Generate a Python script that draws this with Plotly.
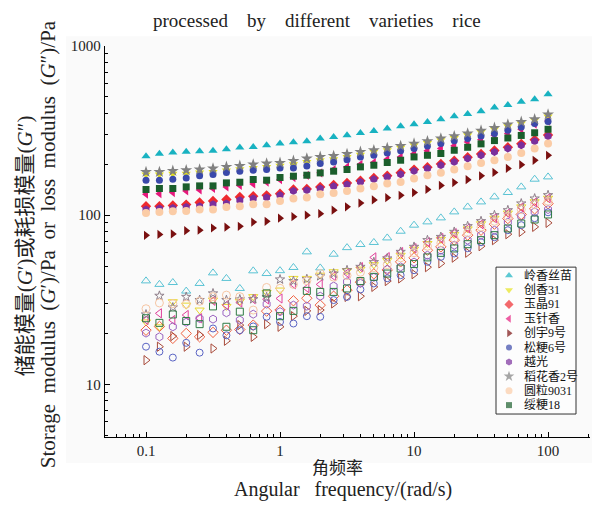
import plotly.graph_objects as go

# ---------------- data ----------------
freq = [0.1, 0.1259, 0.1585, 0.1995, 0.2512, 0.3162, 0.3981, 0.5012, 0.631, 0.7943,
        1.0, 1.259, 1.585, 1.995, 2.512, 3.162, 3.981, 5.012, 6.31, 7.943,
        10.0, 12.59, 15.85, 19.95, 25.12, 31.62, 39.81, 50.12, 63.1, 79.43, 100.0]

names = ["岭香丝苗", "创香31", "玉晶91", "玉针香", "创宇9号", "松粳6号", "越光", "稻花香2号", "圆粒9031", "绥粳18"]

# storage modulus G' (filled symbols)
g1_lingxiang = [223, 231, 235, 237, 239, 240, 245, 251, 253, 259, 265, 270, 274, 284, 290, 297, 306, 315, 325, 335, 345, 356, 369, 384, 396, 411, 433, 448, 469, 484, 518]
g1_chuangxiang31 = [174, 174, 176, 176, 179, 180, 184, 187, 190, 193, 196, 200, 206, 211, 214, 221, 228, 237, 242, 250, 259, 267, 277, 286, 297, 310, 322, 336, 348, 364, 383]
g1_yujing91 = [113, 113, 114, 115.5, 119, 121.5, 124, 128, 129.5, 131, 134, 142, 143, 147, 151, 155, 160, 166, 171, 178, 186, 192, 201, 210, 220, 230, 241, 252, 264, 279, 298]
g1_yuzhenxiang = [133, 134, 136, 139, 141, 144, 147, 150, 153, 157, 162, 167, 172, 178, 186, 193, 200, 205, 214, 221, 231, 240, 248, 257, 271, 280, 297, 304, 322, 345, 360]
g1_chuangyu9 = [76, 77, 77.5, 81, 81.5, 84, 85, 86, 91, 92, 96, 98, 100, 102, 107, 112, 118, 123, 127, 131, 136, 142, 150, 156, 162, 171, 179, 189, 199, 211, 226]
g1_songjing6 = [161, 161, 163, 166, 171, 174, 179, 182, 184.5, 186, 190, 190, 195, 202, 206, 213, 221, 226, 233, 240, 248, 256, 265, 275, 284, 294, 304, 318, 332, 348, 358]
g1_yueguang = [108, 109.5, 110.4, 111.9, 113, 116.1, 117.3, 122.6, 125.5, 127.2, 131.3, 139.2, 140.5, 143.8, 148.4, 151.8, 157.3, 163.2, 168.4, 174.7, 182.7, 188.7, 197.4, 206.5, 216.2, 226, 236.6, 247.7, 259, 273.5, 293]
g1_daohuaxiang2 = [180, 180, 182.7, 184.5, 186.2, 188.7, 193, 195.6, 199.4, 202, 203.7, 209.3, 216.3, 221, 224, 230, 236.6, 242, 249.7, 256.6, 265, 273.5, 284, 293, 304, 316, 328, 343.5, 356, 369, 393.5]
g1_yuanli9031 = [103.2, 104.6, 105.6, 106, 108, 108, 111.9, 113, 116.1, 116.1, 121.5, 125.5, 127.2, 133, 135.4, 139.2, 143.8, 148.4, 153.9, 157.3, 164.8, 172, 178, 186, 194.8, 203.7, 211.3, 221, 233.4, 247.7, 265]
g1_suijing18 = [141.9, 143.8, 143.8, 147, 149, 149, 155.2, 156.6, 162.5, 161, 167, 170, 172.3, 177.8, 182, 186.2, 193, 197.4, 204.8, 211.3, 221, 226, 231.5, 242, 252, 264, 276, 286, 296, 307, 322]

# loss modulus G'' (open symbols)
g2_lingxiang = [40.9, 39, 40.0, 35.6, 39.5, 45.6, 42.3, 36.9, 46.9, 45.2, 47, 49.1, 60.7, 48.8, 58.8, 64.3, 67.1, 69.0, 73.4, 80.4, 87.3, 91.3, 96.4, 104.6, 111.9, 119.8, 128.3, 136.2, 147, 163.2, 168.4]
g2_chuangxiang31 = [23.4, 21.9, 30.8, 29.4, 27.5, 31.5, 28.9, 31, 33, 35, 36.1, 42.3, 42.3, 44.2, 46.3, 47, 48, 51, 54, 58, 63, 68, 72, 77, 83, 89, 96, 103, 112, 120, 126]
g2_yujing91 = [20.9, 22, 18.7, 20.0, 19.1, 20.3, 20.9, 21.1, 22.4, 27.1, 27.5, 31.2, 32.3, 29.4, 33.2, 36.1, 40.2, 45, 47.5, 53, 56, 62.1, 65, 71.2, 76.2, 81.5, 88.5, 95.5, 101, 109, 117]
g2_yuzhenxiang = [24, 26.3, 24, 25.7, 24.6, 31.2, 29.4, 30.5, 31.9, 31.8, 32.2, 39.1, 37.1, 39, 43.6, 45.4, 49.3, 56.3, 56.5, 60.5, 63.8, 69.2, 73.2, 78.3, 83.6, 88.5, 96, 102.6, 111.2, 119, 126]
g2_chuangyu9 = [13.9, 16.7, 19.3, 16.7, 19.6, 16.3, 18.1, 22.4, 19.1, 22.7, 21.9, 25.3, 27.2, 27.5, 30.1, 32.9, 33.2, 37.7, 40.8, 42.3, 44.8, 49.3, 51.9, 56.1, 60, 65.6, 71.2, 77.2, 79.7, 85.3, 90.1]
g2_songjing6 = [16.7, 15.6, 14.4, 17.6, 15.4, 21.4, 19.5, 20.9, 22, 25.1, 23.4, 22.9, 25.3, 25.1, 31.5, 32.9, 36.4, 39.5, 42.4, 44.2, 47.3, 53, 56.7, 59.4, 63.8, 69.2, 74.1, 81.5, 87.3, 96, 104]
g2_yueguang = [20.1, 19.1, 21.9, 23.3, 24.5, 24.3, 26.5, 24, 26.0, 29.8, 26.9, 29.4, 29.0, 33.2, 38.1, 40.4, 39.6, 42.9, 47.8, 49.5, 52.8, 58, 62.1, 66.5, 71.2, 76.2, 81.5, 90.9, 98.5, 104.6, 108]
g2_daohuaxiang2 = [25.9, 33.4, 28.5, 32.9, 31.5, 34.5, 31.5, 31.8, 31.9, 32.8, 41.7, 40.8, 41.9, 43.6, 45.2, 47.3, 49.5, 52.8, 55.5, 60.7, 65, 71.2, 74.4, 79.7, 86.1, 92.2, 100, 107, 117.3, 125.5, 131.3]
g2_yuanli9031 = [28, 30.3, 30, 29.8, 31, 33, 33.7, 33, 27.5, 37.4, 37, 39, 41, 45.2, 43, 44, 46, 49, 51, 56, 60, 65.5, 68.5, 73, 79, 85, 92, 98.5, 108, 115.5, 121]
g2_suijing18 = [24.6, 23.1, 25.9, 23.7, 22.7, 28.9, 21.9, 26.9, 20.9, 34.5, 25.3, 27.2, 35.7, 35.2, 35.2, 36.9, 40.8, 43.2, 45.2, 48.4, 51.4, 56.3, 59.9, 63.6, 67.4, 71.2, 76.2, 83.5, 89.3, 94.3, 101]

storage = [g1_lingxiang, g1_chuangxiang31, g1_yujing91, g1_yuzhenxiang, g1_chuangyu9,
           g1_songjing6, g1_yueguang, g1_daohuaxiang2, g1_yuanli9031, g1_suijing18]
loss = [g2_lingxiang, g2_chuangxiang31, g2_yujing91, g2_yuzhenxiang, g2_chuangyu9,
        g2_songjing6, g2_yueguang, g2_daohuaxiang2, g2_yuanli9031, g2_suijing18]

x_ticks = [0.1, 1, 10, 100]
x_ticktext = ["0.1", "1", "10", "100"]
y_ticks = [10, 100, 1000]
y_ticktext = ["10", "100", "1000"]

# ---------------- styles ----------------
colors = ["#18b2c1", "#e5e21c", "#ee2a2e", "#e6197c", "#7a1010",
          "#3a49aa", "#7a2f9c", "#808080", "#fbcca6", "#1b5e2c"]
open_colors = ["#5ac3d4", "#e8d830", "#f06040", "#e0409a", "#a84a3a",
               "#5a64c4", "#9a64c0", "#8f7f8a", "#f6c6a4", "#2e7a44"]
symbols = ["triangle-up", "triangle-down", "diamond", "triangle-left", "triangle-right",
           "circle", "hexagon", "star", "circle", "square"]
sizes = [8, 8, 8, 8, 8, 7, 8, 9, 8, 7]
open_sizes = [8, 8, 8, 8, 8, 7, 8, 7, 8, 7]

SERIF = "Liberation Serif, Times New Roman, Noto Sans CJK SC, serif"

# the page body has an 8px margin: figure pixel coords = page coords - 8
OFF = 8
W, H = 600 - OFF, 505 - OFF
L, R, T, B = 105 - OFF, 590 - OFF, 45.7 - OFF, 437 - OFF

def px(x):  # page pixel -> paper fraction
    return (x - OFF - L) / (R - L)

def py(y):
    return (B - (y - OFF)) / (B - T)

fig = go.Figure()

for i in range(len(names)):
    fig.add_trace(go.Scatter(
        x=freq, y=storage[i], mode="markers", name=names[i], showlegend=False,
        marker=dict(symbol=symbols[i], size=sizes[i], color=colors[i], line=dict(width=0))))

for i in range(len(names)):
    fig.add_trace(go.Scatter(
        x=freq, y=loss[i], mode="markers", name=names[i] + " G''", showlegend=False,
        marker=dict(symbol=symbols[i] + "-open", size=open_sizes[i], color=open_colors[i],
                    line=dict(width=1, color=open_colors[i]))))

# ---- custom legend (overlay axis in page-pixel space) ----
leg_x0, leg_x1, leg_y0, leg_y1 = 496, 576, 267, 414
leg_first, leg_step = 275.5, 14.4
leg_mark_x, leg_text_x = 509, 522
fig.add_shape(type="rect", xref="x2", yref="y2", x0=leg_x0, x1=leg_x1, y0=leg_y0, y1=leg_y1,
              line=dict(color="#333333", width=1), fillcolor="#fdfdfd", layer="below")
fig.add_trace(go.Scatter(
    x=[leg_mark_x] * len(names), y=[leg_first + leg_step * i for i in range(len(names))],
    xaxis="x2", yaxis="y2", mode="markers", showlegend=False, hoverinfo="skip",
    marker=dict(symbol=symbols, size=[s - 1 for s in sizes], color=colors, line=dict(width=0))))
for i, nm in enumerate(names):
    fig.add_annotation(x=leg_text_x, y=leg_first + leg_step * i, xref="x2", yref="y2",
                       text=nm, showarrow=False, xanchor="left", yanchor="middle",
                       font=dict(family=SERIF, size=12, color="#111"))

# light grey panel behind chart
fig.add_shape(type="rect", xref="paper", yref="paper", x0=px(66), x1=px(600), y0=py(463), y1=py(36),
              line=dict(width=0), fillcolor="#fafafa", layer="below")

NB = "\u00a0"
fig.add_annotation(x=px(317), y=py(20), xref="paper", yref="paper", showarrow=False,
                   text=(NB * 4).join(["processed", "by", "different", "varieties", "rice"]),
                   font=dict(family=SERIF, size=19, color="#222"), xanchor="center", yanchor="middle")
fig.add_annotation(x=px(337), y=py(469), xref="paper", yref="paper", showarrow=False,
                   text="角频率", font=dict(family=SERIF, size=17, color="#222"),
                   xanchor="center", yanchor="middle")
fig.add_annotation(x=px(343), y=py(490), xref="paper", yref="paper", showarrow=False,
                   text="Angular" + NB * 3 + "frequency/(rad/s)", font=dict(family=SERIF, size=20, color="#222"),
                   xanchor="center", yanchor="middle")
fig.add_annotation(x=px(25), y=py(246), xref="paper", yref="paper", showarrow=False, textangle=-90,
                   text="储能模量(<i>G</i>′)或耗损模量(<i>G</i>″)", font=dict(family=SERIF, size=21, color="#222"),
                   xanchor="center", yanchor="middle")
fig.add_annotation(x=px(48), y=py(244), xref="paper", yref="paper", showarrow=False, textangle=-90,
                   text=(NB * 2).join(["Storage", "modulus", "(<i>G</i>′)/Pa", "or", "loss", "modulus", "(<i>G</i>″)/Pa"]),
                   font=dict(family=SERIF, size=21, color="#222"), xanchor="center", yanchor="middle")

x_minor = [0.06, 0.07, 0.08, 0.09] + [k / 10 for k in range(2, 10)] + list(range(2, 10)) + \
          [k * 10 for k in range(2, 10)] + [200]
y_minor = [5, 6, 7, 8, 9] + [k * 10 for k in range(2, 10)] + [k * 100 for k in range(2, 10)]

fig.update_layout(
    width=W, height=H,
    margin=dict(l=L, r=W - R, t=T, b=H - B),
    paper_bgcolor="white", plot_bgcolor="#fafafa",
    font=dict(family=SERIF, color="#222"),
    xaxis=dict(type="log", range=[-1.306, 2.313], tickmode="array", tickvals=x_ticks, ticktext=x_ticktext,
               ticks="inside", ticklen=5, tickwidth=1.2, tickcolor="black",
               showline=True, linecolor="black", linewidth=1.3, showgrid=False, zeroline=False,
               tickfont=dict(family=SERIF, size=15, color="#222"),
               minor=dict(tickmode="array", tickvals=x_minor, ticks="inside", ticklen=3,
                          tickwidth=1, tickcolor="black", showgrid=False)),
    yaxis=dict(type="log", range=[0.689, 3.0], tickmode="array", tickvals=y_ticks, ticktext=y_ticktext,
               ticks="inside", ticklen=5, tickwidth=1.2, tickcolor="black",
               showline=True, linecolor="black", linewidth=1.3, showgrid=False, zeroline=False,
               tickfont=dict(family=SERIF, size=15, color="#222"),
               minor=dict(tickmode="array", tickvals=y_minor, ticks="inside", ticklen=3,
                          tickwidth=1, tickcolor="black", showgrid=False)),
    xaxis2=dict(overlaying="x", range=[L + OFF, R + OFF], visible=False, fixedrange=True),
    yaxis2=dict(overlaying="y", range=[B + OFF, T + OFF], visible=False, fixedrange=True),
    showlegend=False,
)

fig.write_html("out.html")
